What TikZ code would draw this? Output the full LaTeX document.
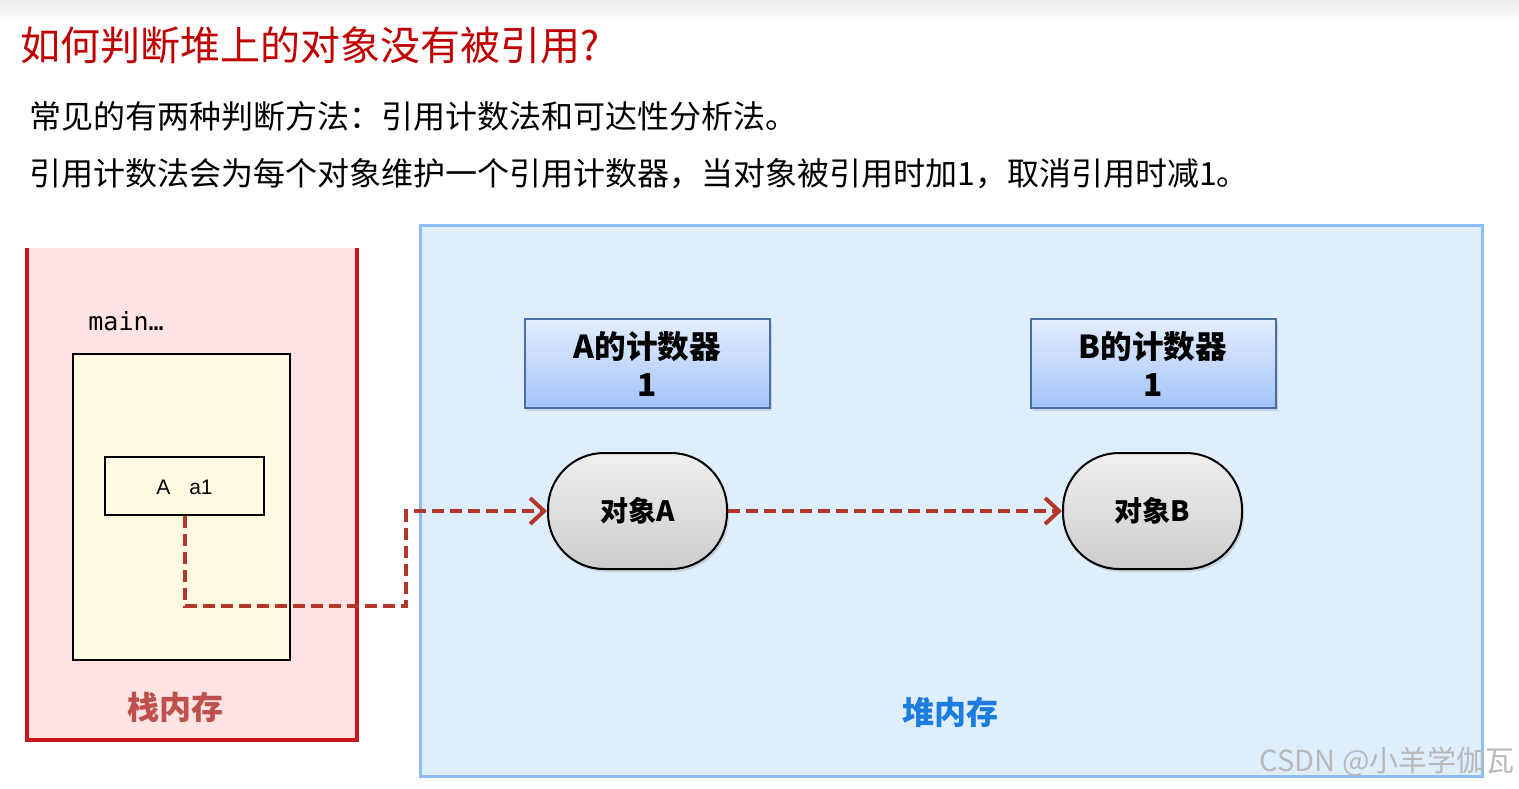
\documentclass[tikz,border=0pt]{standalone}
\usepackage{fontspec}
\setmainfont{Noto Sans CJK SC}
\newfontfamily\monof{DejaVu Sans Mono}
\newfontfamily\sansf{Liberation Sans}
\usetikzlibrary{arrows.meta,shadows}
\definecolor{titlered}{HTML}{C00000}
\definecolor{stackred}{HTML}{C8171A}
\definecolor{stackfill}{HTML}{FDE4E2}
\definecolor{stacktext}{HTML}{C0504D}
\definecolor{framefill}{HTML}{FFFBE3}
\definecolor{heapfill}{HTML}{DFEEFD}
\definecolor{heapline}{HTML}{8DBDF5}
\definecolor{heaptext}{HTML}{1C7CE0}
\definecolor{cntTop}{HTML}{E4EEFD}
\definecolor{cntBot}{HTML}{A3C3FA}
\definecolor{cntLine}{HTML}{4A6FA8}
\definecolor{arrowred}{HTML}{B3372B}
\tikzset{
  counter/.style={draw=cntLine, line width=1pt, top color=cntTop, bottom color=cntBot,
    minimum width=122.5pt, minimum height=44.5pt, align=center, inner sep=0pt,
    font=\fontsize{15.8pt}{19pt}\selectfont\bfseries,
    drop shadow={shadow xshift=1pt, shadow yshift=-1.5pt, opacity=0.25}},
  obj/.style={draw=black, line width=1pt, top color=white!94!black, bottom color=white!80!black,
    rounded corners=28pt, minimum width=89.5pt, minimum height=58pt, inner sep=0pt,
    font=\fontsize{14pt}{16pt}\selectfont\bfseries,
    drop shadow={shadow xshift=1pt, shadow yshift=-1.5pt, opacity=0.25}},
  ref/.style={draw=arrowred, line width=2pt, dash pattern=on 6pt off 3pt,
    -{Straight Barb[length=7pt,width=13pt,line width=2pt]}},
}
\begin{document}
\begin{tikzpicture}[x=0.5pt,y=-0.5pt]
\useasboundingbox (0,0) rectangle (1519,788);
\fill[white] (0,0) rectangle (1519,788);
\shade[top color=white!92!black, bottom color=white] (0,0) rectangle (1519,22);
% title and text
\node[anchor=west, text=titlered, font=\fontsize{20pt}{24pt}\selectfont, inner sep=0pt] (title) at (20,45) {如何判断堆上的对象没有被引用?};
\node[anchor=west, font=\fontsize{16pt}{18pt}\selectfont, inner sep=0pt] (l1) at (29,116) {常见的有两种判断方法：引用计数法和可达性分析法。};
\node[anchor=west, font=\fontsize{16pt}{18pt}\selectfont, inner sep=0pt] (l2) at (29,174) {引用计数法会为每个对象维护一个引用计数器，当对象被引用时加1，取消引用时减1。};
% stack
\fill[stackfill] (27,248) rectangle (357,740);
\draw[stackred, line width=2pt] (27,248) -- (27,740) -- (357,740) -- (357,248);
\node[anchor=west, font=\monof\fontsize{12.5pt}{14pt}\selectfont, inner sep=0pt] (main) at (88,321) {main…};
\draw[black, line width=1pt, fill=framefill] (73,354) rectangle (290,660);
\node[draw=black, line width=1pt, fill=framefill, minimum width=79.5pt, minimum height=29pt, inner sep=0pt, text depth=0pt, font=\sansf\fontsize{10.5pt}{12pt}\selectfont] (a1) at (184.5,486) {\raisebox{-1pt}{A\hspace{0.9em}a1}};
\node[text=stacktext, font=\fontsize{16pt}{18pt}\selectfont\bfseries] (stk) at (175,707) {栈内存};
% heap
\draw[heapline, line width=1.5pt, fill=heapfill] (420,225) rectangle (1482,776);
\node[text=heaptext, font=\fontsize{16pt}{18pt}\selectfont\bfseries] (heap) at (950,712) {堆内存};
\node[counter] (cA) at (647.5,363.5) {A的计数器\\1};
\node[counter] (cB) at (1153,363.5) {B的计数器\\1};
\node[obj] (objA) at (637.5,511) {对象A};
\node[obj] (objB) at (1152.5,511) {对象B};
% references
\coordinate (c1) at (406,606);
\draw[ref] (a1.south) |- (c1) |- (objA.west);
\draw[ref] (objA.east) -- (objB.west);
% watermark
\node[anchor=east, text=white!72!black, font=\fontsize{14.5pt}{16pt}\selectfont, inner sep=0pt] (wm) at (1515,762) {CSDN @小羊学伽瓦};
\end{tikzpicture}
\end{document}
